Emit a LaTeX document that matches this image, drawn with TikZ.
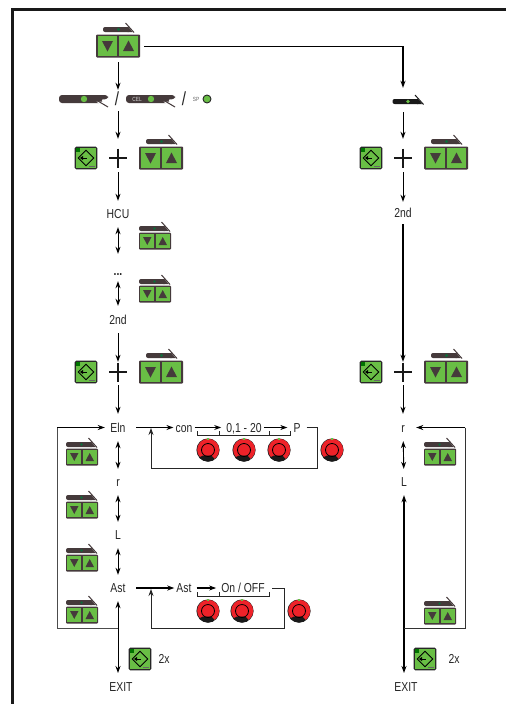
\documentclass[tikz,border=0pt]{standalone}
\usepackage{fontspec}
\setmainfont[FakeStretch=0.8]{Liberation Sans}
\usetikzlibrary{arrows.meta}
\definecolor{gbtn}{HTML}{69BE45}
\definecolor{dbrown}{HTML}{453A3B}
\definecolor{knobred}{HTML}{EE2229}
\definecolor{dotgreen}{HTML}{0E6B3A}
\tikzset{
  x=1pt,y=-1pt,
  tip/.tip={Stealth[length=7pt,width=5pt]},
  lbl/.style={font=\fontsize{13}{13}\selectfont,text=black!85,inner ysep=0pt,inner xsep=2pt,text height=9pt,text depth=0pt},
  vbox/.style={lbl,minimum height=#1},
  gapbox/.style n args={2}{inner sep=0pt,minimum width=#1,minimum height=#2},
  flow/.style={line width=0.9pt,-tip},
  both/.style={line width=0.9pt,tip-tip},
  thinline/.style={line width=0.9pt},
  boldflow/.style={line width=1.5pt,-tip},
  boldboth/.style={line width=1.5pt,tip-tip},
  pics/torch/.style={code={
    \fill[#1,rounded corners=2pt] (-15.5,-2.5)--(9,-2.5)--(12,2.5)--(-15.5,2.5)--cycle;
    \draw[#1,line width=1pt] (7,-6.5)--(15.5,3);
    \fill[#1] (6,-2.5)--(10,-2.5)--(14,2.5)--(9,2.5)--cycle;
  }},
  pics/torchlg/.style={code={
    \fill[dbrown,rounded corners=3pt] (-25,-4)--(24,-4)--(24,0.3)--(16,0.3)--(20,4)--(-25,4)--cycle;
    \fill[dbrown] (-10,0) rectangle (-20,4);
    \fill[white] (12.5,2.6)--(24.5,2.6)--(24.5,8.5)--(20,8.5)--cycle;
    \draw[dbrown,line width=1pt] (13,1.5)--(24,8);
    \fill[gbtn] (0,0) circle (3.2);
  }},
  pics/updown/.style={code={
    \fill[dbrown,rounded corners=1pt] (-22,-11.5) rectangle (22,11.5);
    \fill[gbtn] (-20.3,-9.8) rectangle (-0.8,9.8);
    \fill[gbtn] (0.8,-9.8) rectangle (20.3,9.8);
    \fill[dbrown] (-16,-5) -- (-5,-5) -- (-10.5,5.5) -- cycle;
    \fill[dbrown] (16,5) -- (5,5) -- (10.5,-5.5) -- cycle;
    \pic at (0.5,-16.5) {torch=dbrown};
    \fill[dotgreen] (0.5,-16.5) circle (1.7);
  }},
  pics/updownsm/.style={code={
    \fill[dbrown,rounded corners=1pt] (-16,-8.5) rectangle (16,8.5);
    \fill[gbtn] (-14.7,-7) rectangle (-0.7,7);
    \fill[gbtn] (0.7,-7) rectangle (14.7,7);
    \fill[dbrown] (-12,-4) -- (-3.5,-4) -- (-7.7,4) -- cycle;
    \fill[dbrown] (12,4) -- (3.5,4) -- (7.7,-4) -- cycle;
    \begin{scope}[shift={(-0.5,-12.5)},scale=0.74]
      \pic {torch=dbrown};
      \fill[dotgreen] (0,0) circle (1.7);
    \end{scope}
  }},
  pics/modebtn/.style={code={
    \fill[black!85,rounded corners=1.5pt] (-11.3,-11.3) rectangle (11.3,11.3);
    \fill[gbtn] (-9.6,-9.6) rectangle (9.6,9.6);
    \fill[green!45!black] (-9.6,-9.6) rectangle (-6,-6.5);
    \draw[black,line width=0.9pt] (0,-7.8)--(7.8,0)--(0,7.8)--(-7.8,0)--cycle;
    \draw[black,line width=0.9pt] (-4,0)--(0.5,0);
    \fill[black] (-6,0)--(-2.8,-2.2)--(-2.8,2.2)--cycle;
    \fill[black!60] (3,7.6) rectangle (9.2,9.2);
  }},
  pics/knob/.style={code={
    \fill[black!85] (0,0) circle (11.6);
    \fill[knobred] (0.2,-0.2) circle (11);
    \begin{scope}
      \clip (0,0) circle (11.6);
      \fill[black!90] (-10,8)--(-5,5.5)--(3,5.5)--(5,7)--(7,10)--(3,13)--(-10,13)--cycle;
    \end{scope}
    \draw[black,line width=0.8pt] (0,0) circle (6.5);
    \fill[gbtn] (-1.3,-11.6) rectangle (1.3,-10);
  }},
  pics/plus/.style={code={
    \draw[black!90,line width=2pt] (-9,0)--(9,0) (0,-9.5)--(0,9.5);
  }},
}
\begin{document}
\begin{tikzpicture}
\useasboundingbox (0,0) rectangle (506,704);
\fill[white] (0,0) rectangle (506,704);
% frame
\draw[black!90,line width=2.4pt] (12.5,704)--(12.5,9.3)--(506,9.3);

% ---------- left column nodes
\node[gapbox={20}{32}] (topbtn) at (118,46) {};
\node[gapbox={52}{32}] (topbtnwide) at (118,46) {};
\pic at (118,46) {updown};
\node[gapbox={20}{21}] (torchrow) at (118,100.5) {};
\pic at (84,99) {torchlg};
\node[lbl,font=\fontsize{19}{19}\selectfont] (slashA) at (117,101) {/};
\pic at (151,99) {torchlg};
\node[lbl,font=\fontsize{6}{6}\selectfont,text=white!85!black,text height=4pt] (cel) at (137,99) {CEL};
\node[lbl,font=\fontsize{19}{19}\selectfont] (slashB) at (184,101) {/};
\node[lbl,font=\fontsize{6}{6}\selectfont,text=black!60,text height=4pt] (sp) at (196,99) {SP};
\node[circle,draw=black!85,fill=gbtn,line width=0.9pt,minimum size=8pt,inner sep=0pt] (spled) at (207,99) {};

\node[gapbox={20}{33}] (plusA) at (118,155.5) {};
\pic at (118,158) {plus};
\pic at (86,158) {modebtn};
\pic at (161,158) {updown};
\node[vbox=26pt] (hcu) at (118,214) {HCU};
\pic at (155,241) {updownsm};
\node[vbox=27pt] (dots) at (118,267.5) {\raisebox{-3pt}{\bfseries ...}};
\pic at (155,294) {updownsm};
\node[vbox=27pt] (second) at (118,319.5) {2nd};
\node[gapbox={20}{23}] (plusB) at (118,373.5) {};
\pic at (118,372) {plus};
\pic at (86,372) {modebtn};
\pic at (161,372) {updown};
\node[vbox=27pt,minimum width=26pt] (eln) at (118,427.5) {Eln};
\node[vbox=26pt] (rA) at (118,482) {r};
\node[vbox=26pt] (lA) at (118,535) {L};
\node[vbox=26pt,minimum width=26pt] (astA) at (118,588) {Ast};
\node[vbox=28pt] (exitA) at (121,687) {EXIT};
\pic at (82,457) {updownsm};
\pic at (82,510) {updownsm};
\pic at (82,563) {updownsm};
\pic at (82,615) {updownsm};
\pic at (140,659) {modebtn};
\node[lbl] (twoA) at (164,659) {2x};

\draw[flow] (topbtn)--(torchrow);
\draw[flow] (torchrow)--(plusA);
\draw[flow] (plusA)--(hcu);
\draw[both] (hcu)--(dots);
\draw[both] (dots)--(second);
\draw[flow] (second)--(plusB);
\draw[flow] (plusB)--(eln);
\draw[both] (eln)--(rA);
\draw[both] (rA)--(lA);
\draw[both] (lA)--(astA);
\coordinate (exitTipA) at (118,673);
\draw[both] (astA)--(exitTipA);

% Eln side loop
\coordinate (loopTL) at (57,427.5);
\coordinate (loopBL) at (57,628.5);
\coordinate (loopBR) at (118,628.5);
\draw[boldflow] (loopTL)--(eln);
\draw[thinline,black!70] (loopTL)--(loopBL)--(loopBR);
\node[lbl] (con) at (184,427.5) {con};
\node[lbl] (val) at (244,427.5) {0,1 - 20};
\node[lbl,inner xsep=6pt] (pp) at (297,427.5) {P};
\coordinate (pTR) at (317,427.5);
\coordinate (pBR) at (317,468);
\coordinate (pBL) at (151,468);
\coordinate (pTL) at (151,428);
\draw[boldflow,shorten <=5pt] (eln)--(con);
\draw[flow,shorten >=3pt] (con)--(val);
\draw[flow] (val)--(pp);
\draw[thinline,black!85,-tip] (pp.east) -- (pTR)--(pBR)--(pBL)--(pTL);
\draw[thinline,black!85] (197,431)--(197,435)--(290,435)--(290,431) (219,431)--(219,435) (269,431)--(269,435);
\pic at (208,450) {knob};
\pic at (244,450) {knob};
\pic at (279,450) {knob};
\pic at (332,450) {knob};

% Ast side loop
\node[lbl] (ast2) at (184,588) {Ast};
\node[lbl] (onoff) at (243,588) {On / OFF};
\coordinate (qS) at (272,588);
\coordinate (qTR) at (284,588);
\coordinate (qBR) at (284,628);
\coordinate (qBL) at (151,628);
\coordinate (qTL) at (151,589);
\draw[boldflow,shorten <=5pt] (astA)--(ast2);
\draw[boldflow,line width=1.2pt,shorten <=3pt,shorten >=3pt] (ast2)--(onoff);
\draw[thinline,black!85,-tip] (qS)--(qTR)--(qBR)--(qBL)--(qTL);
\draw[thinline,black!85] (197,592)--(197,596)--(269,596)--(269,592) (219,592)--(219,596);
\pic at (208,611) {knob};
\pic at (242,611) {knob};
\pic at (299,611) {knob};

% ---------- right column
\node[gapbox={20}{24}] (torchB) at (403,100) {};
\pic at (408,101.5) {torch=black!90};
\fill[gbtn] (408,101.5) circle (1.9);
\node[gapbox={20}{33}] (plusC) at (403,155.5) {};
\pic at (403,158) {plus};
\pic at (371,158) {modebtn};
\pic at (446,158) {updown};
\node[vbox=22pt] (secondB) at (403,213) {2nd};
\node[gapbox={20}{23}] (plusD) at (403,373.5) {};
\pic at (403,372) {plus};
\pic at (371,372) {modebtn};
\pic at (446,372) {updown};
\node[vbox=27pt,minimum width=26pt] (rB) at (403,427.5) {r};
\node[vbox=26pt] (lB) at (404,482) {L};
\node[vbox=28pt] (exitB) at (406,687) {EXIT};
\pic at (440,457) {updownsm};
\pic at (440,616) {updownsm};
\pic at (425,659) {modebtn};
\node[lbl] (twoB) at (454,659) {2x};
\coordinate (corner) at (403,46);
\draw[thinline] (topbtnwide.east)--(corner);
\draw[boldflow] (corner)--(torchB);
\draw[flow] (torchB)--(plusC);
\draw[flow] (plusC)--(secondB);
\draw[boldflow] (secondB)--(plusD);
\draw[flow] (plusD)--(rB);
\draw[both] (rB)--(lB);
\coordinate (exitTipB) at (404,673);
\draw[boldboth] (lB)--(exitTipB);
\coordinate (rTR) at (465,427.5);
\coordinate (rBR) at (465,628.5);
\coordinate (rBL) at (404,628.5);
\draw[boldflow] (rTR)--(rB);
\draw[thinline,black!80] (rTR)--(rBR)--(rBL);
\end{tikzpicture}
\end{document}
